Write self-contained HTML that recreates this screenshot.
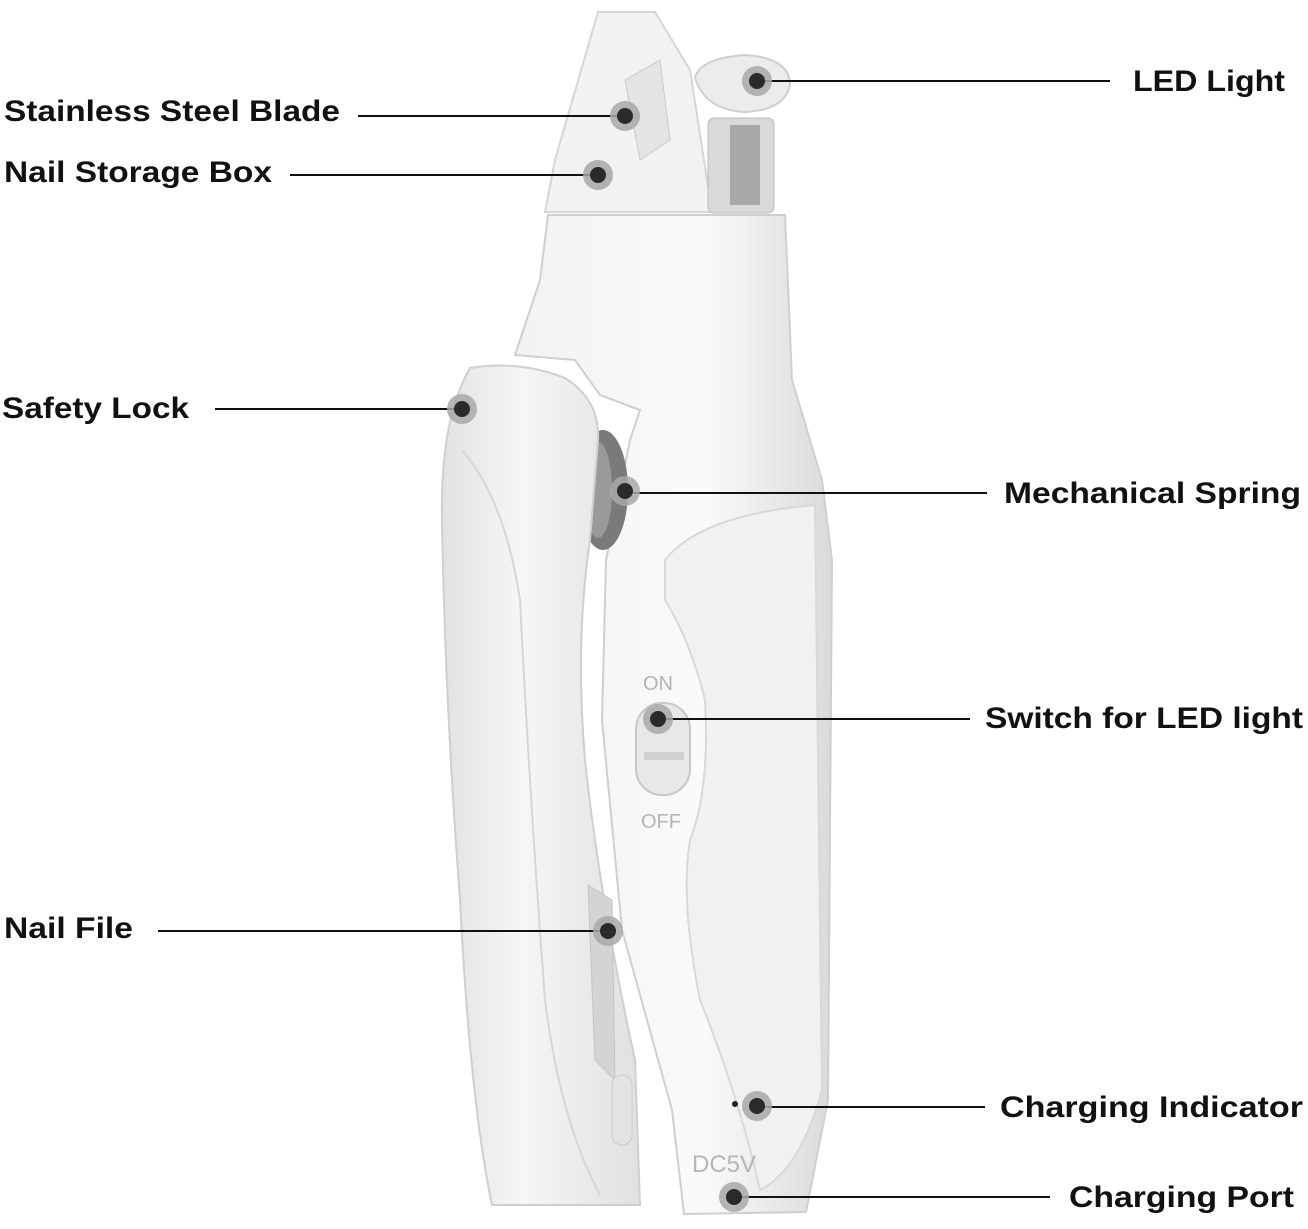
<!DOCTYPE html>
<html><head><meta charset="utf-8"><style>
html,body{margin:0;padding:0;background:#fff;width:1308px;height:1229px;overflow:hidden}
svg{display:block}
.t{font-family:"Liberation Sans",sans-serif;font-weight:bold;font-size:30px;fill:#111}
.g{font-family:"Liberation Sans",sans-serif;font-size:20px;fill:#b5b5b5}
</style></head><body>
<svg width="1308" height="1229" viewBox="0 0 1308 1229" xmlns="http://www.w3.org/2000/svg">
<defs>
<linearGradient id="hg" x1="0" x2="1"><stop offset="0" stop-color="#e2e2e2"/><stop offset=".4" stop-color="#f6f6f6"/><stop offset="1" stop-color="#e0e0e0"/></linearGradient>
<linearGradient id="bg" x1="0" x2="1"><stop offset="0" stop-color="#f2f2f2"/><stop offset=".6" stop-color="#fafafa"/><stop offset="1" stop-color="#dadada"/></linearGradient>
</defs>
<!-- upper body / right handle -->
<path d="M548 215 L785 215 L792 380 L822 480 L832 560 L828 1100 L806 1212 L684 1214 L672 1110 L622 930 L602 720 L606 560 L630 440 L640 410 L600 395 L575 360 L515 355 L540 280 Z" fill="url(#bg)" stroke="#cfcfcf" stroke-width="2"/>
<!-- grip panel -->
<path d="M665 560 Q700 515 815 505 L822 1090 Q800 1170 760 1190 Q740 1100 700 1000 Q680 900 690 840 Q710 790 705 700 Q690 640 665 600 Z" fill="#f1f1f1" stroke="#d8d8d8" stroke-width="2"/>
<!-- spring -->
<ellipse cx="603" cy="490" rx="25" ry="60" fill="#7a7a7a"/>
<ellipse cx="598" cy="490" rx="14" ry="48" fill="#9a9a9a"/>
<!-- left handle -->
<path d="M470 368 Q520 360 565 378 Q600 400 598 440 L590 540 Q575 640 585 760 Q600 900 635 1060 L640 1205 L492 1205 Q470 1100 460 900 Q445 700 442 520 Q440 420 470 368 Z" fill="url(#hg)" stroke="#cfcfcf" stroke-width="2"/>
<path d="M462 450 Q505 500 520 600 Q530 800 545 1000 Q560 1120 600 1195" fill="none" stroke="#d6d6d6" stroke-width="2"/>
<!-- nail file -->
<path d="M588 885 L612 900 L615 1080 L595 1060 Z" fill="#d4d4d4" stroke="#c4c4c4"/>
<rect x="612" y="1075" width="20" height="70" rx="10" fill="#e3e3e3" stroke="#ccc"/>
<!-- blade box -->
<path d="M598 12 L655 12 L690 70 L712 212 L545 212 L555 160 Z" fill="#f1f1f1" stroke="#d2d2d2" stroke-width="2" opacity=".9"/>
<path d="M625 80 L660 60 L670 140 L640 160 Z" fill="#e4e4e4" stroke="#cacaca"/>
<!-- LED -->
<rect x="708" y="118" width="66" height="95" rx="6" fill="#d9d9d9" stroke="#bbb"/>
<rect x="730" y="125" width="30" height="80" fill="#a8a8a8"/>
<path d="M695 78 Q700 58 745 55 Q790 58 790 85 Q785 110 745 112 Q705 110 695 78 Z" fill="#ececec" stroke="#cfcfcf" stroke-width="2"/>
<!-- switch -->
<text class="g" x="643" y="690">ON</text>
<rect x="636" y="703" width="54" height="92" rx="26" fill="#e8e8e8" stroke="#c8c8c8" stroke-width="2"/>
<rect x="644" y="752" width="40" height="8" fill="#d0d0d0"/>
<text class="g" x="641" y="828">OFF</text>
<text class="g" x="692" y="1172" style="font-size:24px">DC5V</text>
<circle cx="735" cy="1104" r="3" fill="#222"/>
<!-- leader lines -->
<g stroke="#111" stroke-width="2">
<line x1="757" y1="81" x2="1110" y2="81"/>
<line x1="358" y1="116" x2="625" y2="116"/>
<line x1="290" y1="175" x2="598" y2="175"/>
<line x1="215" y1="409" x2="462" y2="409"/>
<line x1="625" y1="493" x2="987" y2="493"/>
<line x1="658" y1="719" x2="970" y2="719"/>
<line x1="158" y1="931" x2="608" y2="931"/>
<line x1="757" y1="1107" x2="985" y2="1107"/>
<line x1="734" y1="1197" x2="1050" y2="1197"/>
</g>
<g>
<g fill="#a8a8a8" opacity=".85">
<circle cx="757" cy="81" r="15"/><circle cx="625" cy="116" r="15"/><circle cx="598" cy="175" r="15"/>
<circle cx="462" cy="409" r="15"/><circle cx="625" cy="491" r="15"/><circle cx="658" cy="719" r="15"/>
<circle cx="608" cy="931" r="15"/><circle cx="757" cy="1106" r="15"/><circle cx="734" cy="1197" r="15"/>
</g>
<g fill="#2a2a2a">
<circle cx="757" cy="81" r="8"/><circle cx="625" cy="116" r="8"/><circle cx="598" cy="175" r="8"/>
<circle cx="462" cy="409" r="8"/><circle cx="625" cy="491" r="8"/><circle cx="658" cy="719" r="8"/>
<circle cx="608" cy="931" r="8"/><circle cx="757" cy="1106" r="8"/><circle cx="734" cy="1197" r="8"/>
</g>
</g>
<!-- labels -->
<text class="t" x="1133" y="91" textLength="152" lengthAdjust="spacingAndGlyphs">LED Light</text>
<text class="t" x="4" y="121" textLength="336" lengthAdjust="spacingAndGlyphs">Stainless Steel Blade</text>
<text class="t" x="4" y="182" textLength="268" lengthAdjust="spacingAndGlyphs">Nail Storage Box</text>
<text class="t" x="2" y="418" textLength="187" lengthAdjust="spacingAndGlyphs">Safety Lock</text>
<text class="t" x="1004" y="503" textLength="297" lengthAdjust="spacingAndGlyphs">Mechanical Spring</text>
<text class="t" x="985" y="728" textLength="318" lengthAdjust="spacingAndGlyphs">Switch for LED light</text>
<text class="t" x="4" y="938" textLength="129" lengthAdjust="spacingAndGlyphs">Nail File</text>
<text class="t" x="1000" y="1117" textLength="303" lengthAdjust="spacingAndGlyphs">Charging Indicator</text>
<text class="t" x="1069" y="1207" textLength="225" lengthAdjust="spacingAndGlyphs">Charging Port</text>
</svg>
</body></html>
